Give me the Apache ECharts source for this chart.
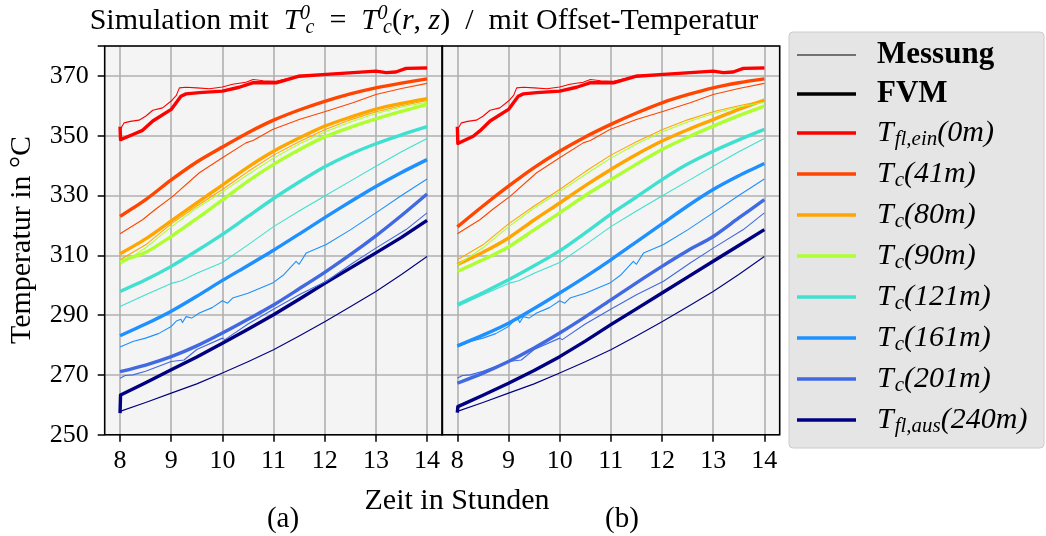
<!DOCTYPE html>
<html><head><meta charset="utf-8">
<script src="https://cdn.jsdelivr.net/npm/echarts@6/dist/echarts.min.js"></script>
<style>html,body{margin:0;padding:0;background:#fff}#c{width:1046px;height:536px}</style>
</head><body><div id="c"></div><script>
const FONT = '"Liberation Serif", "DejaVu Serif", serif';
// ---------- data ----------
const hours = [8, 8.5, 9, 9.5, 10, 10.5, 11, 11.5, 12, 12.5, 13, 13.5, 14];
const xTicks = [8, 9, 10, 11, 12, 13, 14];
const yTicks = [250, 270, 290, 310, 330, 350, 370];
const curveNames = ['T_fl,ein(0m)', 'T_c(41m)', 'T_c(80m)', 'T_c(90m)', 'T_c(121m)', 'T_c(161m)', 'T_c(201m)', 'T_fl,aus(240m)'];
const curveColors = ['#ff0000', '#ff4500', '#ffa500', '#adff2f', '#40e0d0', '#1e90ff', '#4169e1', '#000080'];

// Messung (same in both panels), [hour, °C]
const mess0 = [[8,352],[8.08,354.3],[8.2,354.8],[8.37,355.2],[8.5,356.5],[8.64,358.5],[8.83,359.3],[9.0,361.6],[9.1,363.5],[9.16,366.0],[9.29,366.2],[9.5,366.0],[9.75,365.7],[10.0,366.3],[10.2,367.2],[10.46,367.9],[10.6,368.8],[10.8,368.4],[11.05,368.2],[11.3,369.2],[11.5,370.2],[11.8,370.3],[12.03,370.6],[12.5,370.9],[13.0,371.5],[13.2,371.0],[13.39,371.2],[13.59,372.3],[14.0,372.4]];
const mess41 = [[8,317.2],[8.44,321.9],[8.7,325.5],[9.03,329.7],[9.55,337.6],[10,342.6],[10.46,347.6],[10.6,348.4],[10.98,352.1],[11.5,355.4],[12.03,358.2],[12.55,361.0],[13,363.8],[13.5,365.8],[14,367.5]];
const mess80 = [[8,308.5],[8.5,313.5],[9,320.5],[9.5,326.5],[10,332.0],[10.5,338.0],[11,343.5],[11.5,348.0],[12,352.0],[12.5,355.3],[13,358.0],[13.5,360.0],[14,361.8]];
const mess90 = [[8,306.8],[8.5,312.5],[9,319.5],[9.5,325.8],[10,331.2],[10.5,337.0],[11,342.5],[11.5,347.2],[12,351.2],[12.5,354.6],[13,357.4],[13.5,359.6],[14,361.2]];
const mess121 = [[8,292.9],[8.5,296.8],[9,300.6],[9.2,301.5],[9.5,304.0],[10,307.6],[10.5,313.5],[11,319.6],[11.5,324.8],[12,329.8],[12.5,334.8],[13,339.8],[13.5,344.6],[14,349.1]];
const mess161 = [[8,279.3],[8.25,281.2],[8.5,282.3],[8.75,283.8],[9,286.2],[9.1,288.0],[9.19,288.6],[9.22,287.5],[9.29,289.5],[9.4,289.0],[9.55,290.7],[9.8,292.5],[10,294.8],[10.1,294.0],[10.2,295.7],[10.5,297.3],[10.98,300.7],[11.2,303.5],[11.44,308.0],[11.5,307.0],[11.64,310.8],[12.03,313.6],[12.5,318.5],[13,324.2],[13.5,330.0],[14,335.5]];
const mess201 = [[8,268.9],[8.1,269.8],[8.25,270.0],[8.5,271.2],[9,274.5],[9.25,275.0],[9.5,278.5],[10,282.3],[10.05,281.8],[10.5,287.0],[10.98,291.8],[11.5,296.8],[12.03,301.3],[12.55,307.4],[13,312.4],[13.59,318.6],[14,324.2]];
const mess240 = [[8,257.8],[8.5,260.8],[9,263.9],[9.5,267.0],[10,270.6],[10.5,274.4],[11,278.4],[11.5,283.0],[12,287.8],[12.5,292.8],[13,297.9],[13.5,303.6],[14,309.6]];

// FVM panel (a)
const fvmA0 = [[8,353.0],[8.01,348.7],[8.25,350.4],[8.44,351.8],[8.64,354.9],[9.0,358.8],[9.19,363.2],[9.29,364.0],[9.55,364.4],[10,364.9],[10.33,366.2],[10.59,367.7],[11.05,367.7],[11.5,369.9],[12.03,370.5],[13,371.6],[13.2,371.1],[13.39,371.3],[13.59,372.5],[14,372.7]];
const fvmA41 = [323.0, 328.6, 335.2, 341.2, 346.2, 351.0, 355.2, 358.6, 361.5, 364.0, 366.0, 367.6, 369.0];
const fvmA80 = [310.5, 315.5, 321.5, 327.5, 333.5, 339.5, 344.8, 349.2, 353.2, 356.2, 358.9, 360.8, 362.4];
const fvmA90 = [308.0, 311.0, 316.3, 322.3, 328.5, 334.8, 340.4, 345.3, 349.6, 352.8, 355.6, 358.1, 360.5];
const fvmA121 = [297.9, 301.8, 306.3, 311.5, 317.0, 323.0, 329.0, 334.5, 339.6, 343.8, 347.3, 350.3, 353.0];
const fvmA161 = [283.1, 287.0, 291.3, 296.3, 301.6, 306.6, 311.7, 317.1, 322.6, 327.9, 333.0, 337.7, 342.0];
const fvmA201 = [271.1, 273.3, 276.1, 279.7, 284.0, 288.6, 293.4, 298.8, 304.3, 310.2, 316.5, 323.3, 330.5];
const fvmA240 = [[8,257.2],[8.01,263.3],[8.5,267.4],[9,271.7],[9.5,276.0],[10,280.6],[10.5,285.3],[11,290.1],[11.5,295.3],[12,300.6],[12.5,305.7],[13,310.8],[13.5,316.0],[14,321.7]];

// FVM panel (b)
const fvmB0 = [[8,353.0],[8.01,347.4],[8.31,349.8],[8.44,351.6],[8.64,354.9],[9.0,358.8],[9.19,363.2],[9.29,364.0],[9.55,364.4],[10,364.9],[10.33,366.2],[10.59,367.7],[11.05,367.7],[11.5,369.9],[12.03,370.5],[13,371.6],[13.2,371.1],[13.39,371.3],[13.59,372.5],[14,372.7]];
const fvmB41 = [319.5, 326.5, 333.1, 339.3, 344.8, 349.6, 353.8, 357.6, 361.0, 363.7, 366.0, 367.7, 369.0];
const fvmB80 = [306.9, 311.0, 315.8, 321.8, 327.5, 333.3, 338.7, 343.7, 348.2, 352.0, 355.4, 358.8, 361.9];
const fvmB90 = [304.6, 308.5, 312.8, 318.5, 324.2, 330.0, 335.3, 340.5, 345.4, 349.5, 353.2, 356.7, 359.9];
const fvmB121 = [293.5, 297.5, 301.8, 306.5, 311.5, 317.5, 323.8, 329.5, 335.3, 340.5, 344.8, 348.6, 352.1];
const fvmB161 = [279.7, 283.3, 287.3, 292.2, 297.4, 302.8, 308.5, 314.5, 320.5, 326.5, 332.0, 336.6, 340.7];
const fvmB201 = [267.2, 270.6, 274.5, 279.0, 284.0, 289.4, 295.1, 300.8, 306.3, 311.5, 316.3, 322.5, 328.6];
const fvmB240 = [[8,257.4],[8.01,259.4],[8.5,263.2],[9,267.2],[9.5,271.5],[10,276.1],[10.5,281.3],[11,286.8],[11.5,292.1],[12,297.4],[12.5,302.7],[13,308.0],[13.5,313.3],[14,318.6]];

const messAll = [mess0, mess41, mess80, mess90, mess121, mess161, mess201, mess240];
const fvmAAll = [fvmA0, fvmA41, fvmA80, fvmA90, fvmA121, fvmA161, fvmA201, fvmA240];
const fvmBAll = [fvmB0, fvmB41, fvmB80, fvmB90, fvmB121, fvmB161, fvmB201, fvmB240];

// ---------- layout ----------
const PA = {left: 104.7, width: 337.7};
const PB = {left: 442.0, width: 337.7};
const TOP = 46, BOTTOM_Y = 434.7, H = BOTTOM_Y - TOP;
const XMIN = 7.7, XMAX = 14.3;
const pxPerH = PA.width / (XMAX - XMIN);

function toPairs(d) {
  return (typeof d[0] === 'number') ? d.map((v, i) => [hours[i], v]) : d;
}

const grids = [
  {left: PA.left, top: TOP, width: PA.width, height: H, show: true, backgroundColor: '#f4f4f4', borderWidth: 0},
  {left: PB.left, top: TOP, width: PB.width, height: H, show: true, backgroundColor: '#f4f4f4', borderWidth: 0},
  {left: PA.left + (8 - XMIN) * pxPerH, top: TOP, width: 6 * pxPerH, height: H, show: false},
  {left: PB.left + (8 - XMIN) * pxPerH, top: TOP, width: 6 * pxPerH, height: H, show: false}
];
const gridLineStyle = {color: '#b0b0b0', width: 1.6};
const xAxes = [
  {gridIndex: 0, type: 'value', min: XMIN, max: XMAX, show: false},
  {gridIndex: 1, type: 'value', min: XMIN, max: XMAX, show: false}
];
[2, 3].forEach(g => xAxes.push({
  gridIndex: g, type: 'value', min: xTicks[0], max: xTicks[xTicks.length - 1], interval: 1,
  axisLine: {show: false},
  axisTick: {show: true, inside: false, length: 7, lineStyle: {color: '#000', width: 1.5}},
  axisLabel: {show: true, margin: 13, color: '#000', fontSize: 26, fontFamily: FONT},
  splitLine: {show: true, lineStyle: gridLineStyle}
}));
const yAxes = [0, 1].map(g => ({
  gridIndex: g, type: 'value', min: 250, max: 380, interval: 20,
  axisLine: {show: false},
  axisTick: {show: g === 0, inside: false, length: 7, lineStyle: {color: '#000', width: 1.5}},
  axisLabel: {show: g === 0, margin: 16, color: '#000', fontSize: 26, fontFamily: FONT,
    formatter: v => yTicks.indexOf(v) >= 0 ? String(v) : ''},
  splitLine: {show: true, lineStyle: gridLineStyle}
}));
yAxes.push({gridIndex: 2, type: 'value', min: 250, max: 380, show: false});
yAxes.push({gridIndex: 3, type: 'value', min: 250, max: 380, show: false});

const series = [];
function addLine(idx, data, width, name, col, smooth) {
  series.push({
    type: 'line', name: name, xAxisIndex: idx, yAxisIndex: idx, data: toPairs(data),
    symbol: 'none', smooth: smooth ? 0.25 : false, animation: false, silent: true,
    lineStyle: {color: col, width: width, cap: 'butt', join: 'round'}, z: 2
  });
}
[0, 1].forEach(p => {
  const fvm = p === 0 ? fvmAAll : fvmBAll;
  for (let i = 0; i < 8; i++) {
    addLine(p, fvm[i], 3.4, curveNames[i] + ' FVM', curveColors[i], typeof fvm[i][0] === 'number');
  }
  for (let i = 0; i < 8; i++) {
    addLine(p, messAll[i], 1.1, curveNames[i] + ' Messung', curveColors[i], false);
  }
});

// ---------- graphic: frames, titles, labels, legend ----------
const graphics = [];
[PA, PB].forEach(P => graphics.push({
  type: 'rect', shape: {x: P.left, y: TOP, width: P.width, height: H}, z: 100,
  style: {fill: 'none', stroke: '#000', lineWidth: 1.6}
}));
const it = {fontStyle: 'italic', fontFamily: FONT, fontSize: 30};
const rm = {fontFamily: FONT, fontSize: 30};
graphics.push({
  type: 'text', x: 424, y: 21, z: 100,
  style: {
    text: '{r|Simulation mit  }{T|T}{p|0}{b|c}{r|  =  }{T|T}{p|0}{b|c}{r|(}{T|r}{r|, }{T|z}{r|)  /  mit Offset-Temperatur}',
    align: 'center', verticalAlign: 'middle', fill: '#000',
    rich: {
      r: rm, T: it,
      p: {fontStyle: 'italic', fontFamily: FONT, fontSize: 20, padding: [0, 0, 15, 4], width: 1},
      b: {fontStyle: 'italic', fontFamily: FONT, fontSize: 20, padding: [13, 0, 0, 0]}
    }
  }
});
graphics.push({type: 'text', x: 22, y: 240, rotation: Math.PI / 2, z: 100,
  style: {text: 'Temperatur in °C', fontFamily: FONT, fontSize: 30, fill: '#000', align: 'center', verticalAlign: 'middle'}});
graphics.push({type: 'text', x: 457, y: 501, z: 100,
  style: {text: 'Zeit in Stunden', fontFamily: FONT, fontSize: 30, fill: '#000', align: 'center', verticalAlign: 'middle'}});
graphics.push({type: 'text', x: 283, y: 519, z: 100,
  style: {text: '(a)', fontFamily: FONT, fontSize: 29, fill: '#000', align: 'center', verticalAlign: 'middle'}});
graphics.push({type: 'text', x: 622, y: 519, z: 100,
  style: {text: '(b)', fontFamily: FONT, fontSize: 29, fill: '#000', align: 'center', verticalAlign: 'middle'}});

// legend
graphics.push({type: 'rect', shape: {x: 789, y: 32, width: 255, height: 416, r: 4}, z: 90,
  style: {fill: '#e5e5e5', stroke: '#cccccc', lineWidth: 1}});
const legendRows = [55, 94, 133, 174, 215, 256, 297, 338, 379, 420];
const legendTexts = [
  {text: 'Messung', bold: true},
  {text: 'FVM', bold: true},
  {text: '{T|T}{s|fl,ein}{n|(0m)}'},
  {text: '{T|T}{s|c}{n|(41m)}'},
  {text: '{T|T}{s|c}{n|(80m)}'},
  {text: '{T|T}{s|c}{n|(90m)}'},
  {text: '{T|T}{s|c}{n|(121m)}'},
  {text: '{T|T}{s|c}{n|(161m)}'},
  {text: '{T|T}{s|c}{n|(201m)}'},
  {text: '{T|T}{s|fl,aus}{n|(240m)}'}
];
legendTexts.forEach((lt, k) => {
  const y = legendRows[k];
  const col = k < 2 ? '#000' : curveColors[k - 2];
  const w = k === 0 ? 1.1 : 3.4;
  graphics.push({type: 'line', z: 95, shape: {x1: 797, y1: y, x2: 856, y2: y},
    style: {stroke: col, lineWidth: w}});
  if (lt.bold) {
    graphics.push({type: 'text', x: 877, y: y, z: 95,
      style: {text: lt.text, fontFamily: FONT, fontWeight: 'bold', fontSize: 31, fill: '#000', verticalAlign: 'middle'}});
  } else {
    graphics.push({type: 'text', x: 877, y: y, z: 95,
      style: {text: lt.text, fill: '#000', verticalAlign: 'middle',
        rich: {
          T: {fontStyle: 'italic', fontFamily: FONT, fontSize: 30},
          s: {fontStyle: 'italic', fontFamily: FONT, fontSize: 21, padding: [13, 0, 0, 1]},
          n: {fontStyle: 'italic', fontFamily: FONT, fontSize: 30}
        }}});
  }
});

const chart = echarts.init(document.getElementById('c'), null, {renderer: 'canvas'});
chart.setOption({
  animation: false,
  backgroundColor: '#ffffff',
  grid: grids, xAxis: xAxes, yAxis: yAxes, series: series, graphic: graphics
});
</script></body></html>
